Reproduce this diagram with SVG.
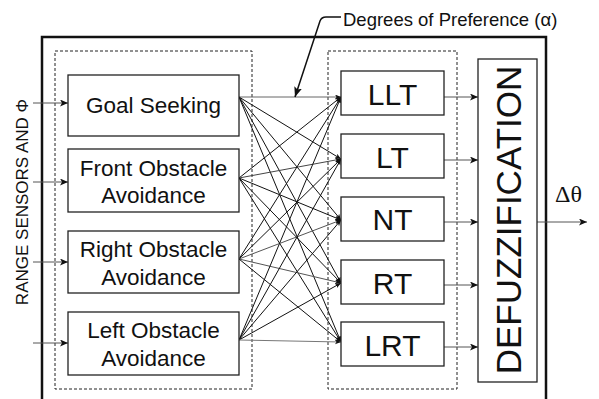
<svg xmlns="http://www.w3.org/2000/svg" width="599" height="399" viewBox="0 0 599 399">
  <style>
    .box { fill: #fff; stroke: #222; stroke-width: 1.3; }
    .dash { fill: none; stroke: #222; stroke-width: 1; stroke-dasharray: 3 2; }
    .lbl { font-family: "Liberation Sans", Arial, sans-serif; fill: #111; text-anchor: middle; }
    .beh { font-size: 22.5px; }
    .turn { font-size: 30px; }
    .wire { fill: none; stroke: #111; stroke-width: 1; }
    .in { fill: none; stroke: #555; stroke-width: 1; }
  </style>
  <defs>
    <marker id="arr" markerUnits="userSpaceOnUse" markerWidth="10" markerHeight="8" refX="8" refY="3.5" orient="auto">
      <path d="M0,0 L8,3.5 L0,7 L2,3.5 z" fill="#111"/>
    </marker>
    <marker id="arrs" markerUnits="userSpaceOnUse" markerWidth="8" markerHeight="6" refX="6" refY="2.5" orient="auto">
      <path d="M0,0 L6,2.5 L0,5 L1.5,2.5 z" fill="#111"/>
    </marker>
    <marker id="lead" markerUnits="userSpaceOnUse" markerWidth="12" markerHeight="10" refX="10" refY="4" orient="auto-start-reverse">
      <path d="M0,0 L10,4 L0,8 L2,4 z" fill="#111"/>
    </marker>
  </defs>

  <!-- controller frame and grouping outlines -->
  <path d="M42,410 V37 H546 V410" fill="none" stroke="#111" stroke-width="2.5"/>
  <rect class="dash" x="55" y="51" width="197" height="338"/>
  <rect class="dash" x="328" y="51" width="129" height="338"/>

  <!-- input label -->
  <text class="lbl" font-size="17" transform="translate(28,202) rotate(-90)">RANGE SENSORS AND Φ</text>

  <g id="connectors">
    <!-- sensor inputs -->
    <line class="in" x1="33" y1="103" x2="68" y2="103" marker-end="url(#arr)"/>
    <line class="in" x1="33" y1="182" x2="68" y2="182" marker-end="url(#arr)"/>
    <line class="in" x1="33" y1="262" x2="68" y2="262" marker-end="url(#arr)"/>
    <line class="in" x1="33" y1="343" x2="68" y2="343" marker-end="url(#arr)"/>

    <!-- behaviour to turn-set fan -->
    <g class="wire">
      <line x1="239" y1="97" x2="341" y2="97" stroke="#666" marker-end="url(#arrs)"/>
      <line x1="239" y1="97" x2="341" y2="159" marker-end="url(#arrs)"/>
      <line x1="239" y1="97" x2="341" y2="220" marker-end="url(#arrs)"/>
      <line x1="239" y1="97" x2="341" y2="283" marker-end="url(#arrs)"/>
      <line x1="239" y1="97" x2="341" y2="342" marker-end="url(#arrs)"/>

      <line x1="239" y1="178" x2="341" y2="97" marker-end="url(#arrs)"/>
      <line x1="239" y1="178" x2="341" y2="159" stroke="#444" marker-end="url(#arrs)"/>
      <line x1="239" y1="178" x2="341" y2="220" marker-end="url(#arrs)"/>
      <line x1="239" y1="178" x2="341" y2="283" marker-end="url(#arrs)"/>
      <line x1="239" y1="178" x2="341" y2="342" marker-end="url(#arrs)"/>

      <line x1="239" y1="259" x2="341" y2="97" marker-end="url(#arrs)"/>
      <line x1="239" y1="259" x2="341" y2="159" marker-end="url(#arrs)"/>
      <line x1="239" y1="259" x2="341" y2="220" stroke="#555" marker-end="url(#arrs)"/>
      <line x1="239" y1="259" x2="341" y2="283" stroke="#555" marker-end="url(#arrs)"/>
      <line x1="239" y1="259" x2="341" y2="342" marker-end="url(#arrs)"/>

      <line x1="239" y1="340" x2="341" y2="97" marker-end="url(#arrs)"/>
      <line x1="239" y1="340" x2="341" y2="159" marker-end="url(#arrs)"/>
      <line x1="239" y1="340" x2="341" y2="220" marker-end="url(#arrs)"/>
      <line x1="239" y1="340" x2="341" y2="283" marker-end="url(#arrs)"/>
      <line x1="239" y1="340" x2="341" y2="342" stroke="#777" marker-end="url(#arrs)"/>
    </g>

    <!-- turn sets to defuzzification -->
    <line class="in" x1="444" y1="97" x2="478" y2="97" marker-end="url(#arr)"/>
    <line class="in" x1="444" y1="160" x2="478" y2="160" marker-end="url(#arr)"/>
    <line class="in" x1="444" y1="222" x2="478" y2="222" marker-end="url(#arr)"/>
    <line class="in" x1="444" y1="285" x2="478" y2="285" marker-end="url(#arr)"/>
    <line class="in" x1="444" y1="347" x2="478" y2="347" marker-end="url(#arr)"/>

    <!-- output -->
    <line class="in" x1="529" y1="222" x2="587" y2="222" stroke="#222" marker-end="url(#arr)"/>

    <!-- preference degree leader -->
    <path d="M295,97 L320,21 Q321.5,17 326,17 L341,17" fill="none" stroke="#111" stroke-width="1.5" marker-start="url(#lead)"/>
  </g>

  <text class="lbl" font-size="18.5" x="343" y="26" style="text-anchor:start">Degrees of Preference (α)</text>

  <g id="goal-seeking">
    <rect class="box" x="68" y="75" width="171" height="61"/>
    <text class="lbl beh" x="153.5" y="113">Goal Seeking</text>
  </g>
  <g id="front-obstacle">
    <rect class="box" x="68" y="149" width="171" height="63"/>
    <text class="lbl beh" x="153.5" y="176">Front Obstacle</text>
    <text class="lbl beh" x="153.5" y="203">Avoidance</text>
  </g>
  <g id="right-obstacle">
    <rect class="box" x="68" y="231" width="171" height="62"/>
    <text class="lbl beh" x="153.5" y="257">Right Obstacle</text>
    <text class="lbl beh" x="153.5" y="285">Avoidance</text>
  </g>
  <g id="left-obstacle">
    <rect class="box" x="68" y="312" width="171" height="63"/>
    <text class="lbl beh" x="153.5" y="338">Left Obstacle</text>
    <text class="lbl beh" x="153.5" y="366">Avoidance</text>
  </g>

  <g id="llt">
    <rect class="box" x="341" y="71" width="103" height="44"/>
    <text class="lbl turn" x="392.5" y="105">LLT</text>
  </g>
  <g id="lt">
    <rect class="box" x="341" y="134" width="103" height="44"/>
    <text class="lbl turn" x="392.5" y="168">LT</text>
  </g>
  <g id="nt">
    <rect class="box" x="341" y="197" width="103" height="44"/>
    <text class="lbl turn" x="392.5" y="230">NT</text>
  </g>
  <g id="rt">
    <rect class="box" x="341" y="260" width="103" height="44"/>
    <text class="lbl turn" x="392.5" y="294">RT</text>
  </g>
  <g id="lrt">
    <rect class="box" x="341" y="322" width="103" height="44"/>
    <text class="lbl turn" x="392.5" y="356">LRT</text>
  </g>

  <g id="defuzzification">
    <rect class="box" x="478" y="59" width="59" height="323"/>
    <text class="lbl" font-size="35" transform="translate(521,220) rotate(-90)">DEFUZZIFICATION</text>
  </g>

  <text x="555" y="202" font-family="'Liberation Serif', 'Times New Roman', serif" font-size="24" fill="#111">Δθ</text>
</svg>
